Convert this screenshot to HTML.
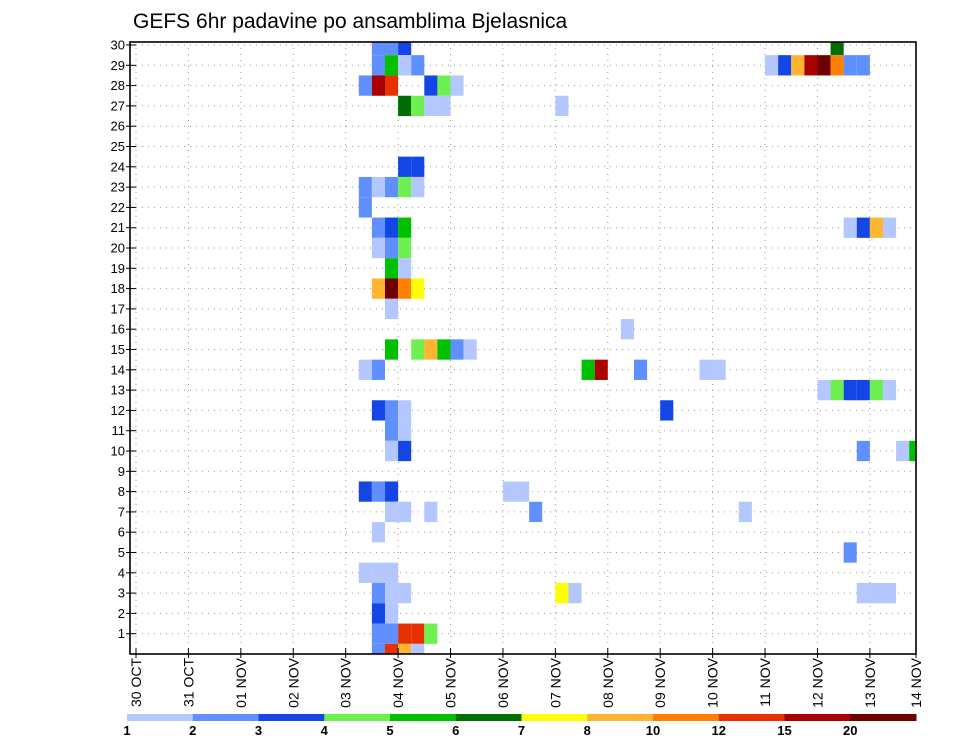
<!DOCTYPE html>
<html><head><meta charset="utf-8">
<style>
html,body{margin:0;padding:0;background:#fff;}
svg{display:block;font-family:"Liberation Sans",sans-serif;}
</style></head>
<body>
<svg id="chart" width="960" height="742" viewBox="0 0 960 742" xmlns="http://www.w3.org/2000/svg">
<text x="133" y="28" font-size="21" fill="#000">GEFS 6hr padavine po ansamblima Bjelasnica</text>
<g id="grid"></g>
<g id="cells"></g>
<g id="axes"></g>
<g id="legend"></g>
</svg>
<script>
// ---- data ----
const dayLabels = ["30 OCT","31 OCT","01 NOV","02 NOV","03 NOV","04 NOV","05 NOV","06 NOV","07 NOV","08 NOV","09 NOV","10 NOV","11 NOV","12 NOV","13 NOV","14 NOV"];
const memberLabels = [1,2,3,4,5,6,7,8,9,10,11,12,13,14,15,16,17,18,19,20,21,22,23,24,25,26,27,28,29,30];
const levelLabels = ["1","2","3","4","5","6","7","8","10","12","15","20"];
const levelColors = ["#b4c8ff","#6090ff","#1446e6","#6ef050","#00c000","#006e00","#ffff00","#ffb432","#ff8000","#e63200","#aa0000","#6e0000"];
// cells: member row, 6-hour step index (from 30 OCT), colour level index
const cellRow = [30,30,30,30,
 29,29,29,29,29,29,29,29,29,29,29,29,
 28,28,28,28,28,28,
 27,27,27,27,27,
 24,24,
 23,23,23,23,23,
 22,
 21,21,21,21,21,21,21,
 20,20,20,
 19,19,
 18,18,18,18,
 17,16,
 15,15,15,15,15,15,
 14,14,14,14,14,14,14,
 13,13,13,13,13,13,
 12,12,12,12,
 11,11,
 10,10,10,10,10,
 8,8,8,8,8,
 7,7,7,7,7,
 6,5,
 4,4,4,
 3,3,3,3,3,3,3,3,
 2,2,
 1,1,1,1,1,
 0,0,0,0];
const cellCol = [18,19,20,53,
 18,19,20,21,48,49,50,51,52,53,54,55,
 17,18,19,22,23,24,
 20,21,22,23,32,
 20,21,
 17,18,19,20,21,
 17,
 18,19,20,54,55,56,57,
 18,19,20,
 19,20,
 18,19,20,21,
 19,37,
 19,21,22,23,24,25,
 17,18,34,35,38,43,44,
 52,53,54,55,56,57,
 18,19,20,40,
 19,20,
 19,20,55,58,59,
 17,18,19,28,29,
 19,20,22,30,46,
 18,54,
 17,18,19,
 18,19,20,32,33,55,56,57,
 18,19,
 18,19,20,21,22,
 18,19,20,21];
const cellLevel = [1,1,2,5,
 1,4,0,1,0,2,7,10,11,8,1,1,
 1,10,9,2,3,0,
 5,3,0,0,0,
 2,2,
 1,0,1,3,0,
 1,
 1,2,4,0,2,7,0,
 0,1,3,
 4,0,
 7,11,8,6,
 0,0,
 4,3,7,4,1,0,
 0,1,4,10,1,0,0,
 0,3,2,2,3,0,
 2,1,0,2,
 1,0,
 0,2,1,0,4,
 2,1,2,0,0,
 0,0,0,1,0,
 0,1,
 0,0,0,
 1,0,0,6,0,0,0,0,
 2,0,
 1,1,9,9,3,
 1,9,7,0];

// ---- axes ----
const X0=130, X1=916, Y0=42, Y1=654;
const stepPx = 52.42/4;
function xScale(u){ return 136 + u*stepPx; }       // u in 6h steps from 30 OCT
function yScale(m){ return 654 - m*20.3; }          // member row centre
const NS="http://www.w3.org/2000/svg";
function mk(tag, attrs, parent){ const e=document.createElementNS(NS,tag); for(const k in attrs) e.setAttribute(k,attrs[k]); parent.appendChild(e); return e; }

const grid=document.getElementById('grid');
memberLabels.forEach(m=>{
  const l=mk('line',{x1:X0,x2:X1,y1:yScale(m),y2:yScale(m),stroke:'#999','stroke-width':1,'stroke-dasharray':'1 5'},grid);
  
  
});
dayLabels.forEach((d,i)=>{
  const x=xScale(i*4); if(x>X1) return;
  const l=mk('line',{x1:x,x2:x,y1:Y0,y2:Y1,stroke:'#999','stroke-width':1,'stroke-dasharray':'1 5'},grid);
  
  
});

const cells=document.getElementById('cells');
mk('clipPath',{id:'plotclip'},cells).appendChild((()=>{const r=document.createElementNS(NS,'rect');r.setAttribute('x',X0);r.setAttribute('y',Y0);r.setAttribute('width',X1-X0);r.setAttribute('height',Y1-Y0);return r;})());
const cg=mk('g',{'clip-path':'url(#plotclip)'},cells);
for(let i=0;i<cellRow.length;i++){
  const x=xScale(cellCol[i]), x2=xScale(cellCol[i]+1);
  const y=yScale(cellRow[i])-10.15;
  const r=mk('rect',{x:x,y:y,width:x2-x,height:20.3,fill:levelColors[cellLevel[i]]},cg);
  
  
}

const axes=document.getElementById('axes');
const frame=mk('rect',{x:X0,y:Y0,width:X1-X0,height:Y1-Y0,fill:'none',stroke:'#000','stroke-width':1.6},axes);


memberLabels.forEach(m=>{
  const y=yScale(m);
  mk('line',{x1:X0-4,x2:X0+6,y1:y,y2:y,stroke:'#000','stroke-width':1},axes);
  const t=mk('text',{x:X0-5,y:y+4.5,'font-size':13,'text-anchor':'end',fill:'#000'},axes);
  t.textContent=m;
  
  
});
dayLabels.forEach((d,i)=>{
  let x=xScale(i*4); if(x>X1) x=X1;
  mk('line',{x1:x,x2:x,y1:Y1-6,y2:Y1+4,stroke:'#000','stroke-width':1},axes);
  const t=mk('text',{x:0,y:0,'font-size':14,'text-anchor':'end',fill:'#000',transform:`translate(${x+5},${Y1+4}) rotate(-90)`},axes);
  t.textContent=d;
  
  
});

const legend=document.getElementById('legend');
const LX0=127, LX1=916, segW=(LX1-LX0)/levelColors.length;
levelColors.forEach((c,i)=>{
  const r=mk('rect',{x:LX0+i*segW,y:714,width:segW+0.5,height:7,fill:c},legend);
  
  
});
levelLabels.forEach((s,i)=>{
  const t=mk('text',{x:LX0+i*segW,y:735,'font-size':13,'font-weight':'bold','text-anchor':'middle',fill:'#000'},legend);
  t.textContent=s;
  
  
});
</script>
</body></html>
